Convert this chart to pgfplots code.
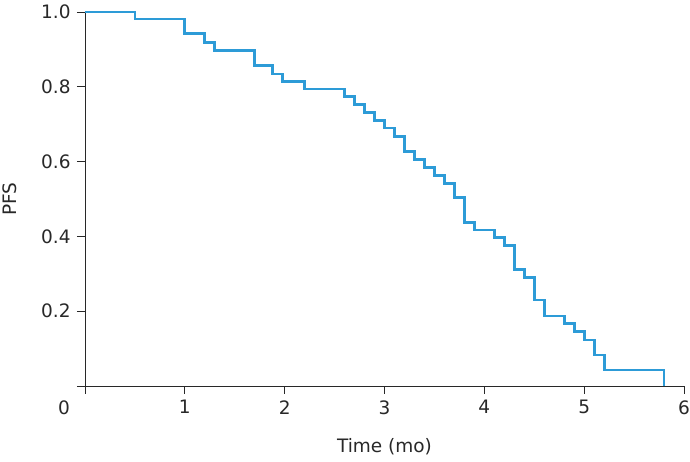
\documentclass[border=0pt]{standalone}
\usepackage{pgfplots}
\pgfplotsset{compat=1.18}
\usepackage{fontspec}
\setmainfont{DejaVu Sans}
\definecolor{kmblue}{RGB}{45,155,215}
\definecolor{axgray}{RGB}{40,40,40}
\begin{document}
\fontsize{18.5pt}{22pt}\selectfont
\begin{tikzpicture}
\begin{axis}[
  scale only axis,
  width=599pt, height=374pt,
  xmin=0, xmax=6, ymin=0, ymax=1,
  axis x line*=bottom, axis y line*=left,
  axis line style={axgray, line width=0.9pt, -},
  tick style={axgray, line width=0.9pt},
  tick align=outside,
  major tick length=8pt,
  xtick={0,1,2,3,4,5,6},
  xticklabels={\makebox[0pt][r]{0\hspace{15pt}},1,2,3,4,5,6},
  ytick={0,0.2,0.4,0.6,0.8,1.0},
  yticklabels={,0.2,0.4,0.6,0.8,1.0},
  /pgf/number format/assume math mode=true,
  ticklabel style={font=\fontsize{18.5pt}{22pt}\selectfont, text=axgray},
  xlabel={Time (mo)}, ylabel={PFS},
  label style={font=\fontsize{18.5pt}{22pt}\selectfont, text=axgray},
  xlabel style={at={(axis description cs:0.5,0)}, anchor=center, yshift=-61pt},
  ylabel style={at={(axis description cs:-0.1252,0.5)}, anchor=center},
  clip=false,
]
\addplot[const plot, color=kmblue, line width=2.8pt, line join=miter] coordinates {
(0,1) (0.5,0.981) (1.0,0.942) (1.2,0.919) (1.3,0.897) (1.7,0.856) (1.88,0.834)
(1.98,0.814) (2.2,0.794) (2.6,0.774) (2.7,0.752) (2.8,0.731) (2.9,0.709) (3.0,0.690)
(3.1,0.668) (3.2,0.626) (3.3,0.606) (3.4,0.584) (3.5,0.563) (3.6,0.542) (3.7,0.503)
(3.8,0.437) (3.9,0.417) (4.1,0.397) (4.2,0.376) (4.3,0.312) (4.4,0.291) (4.5,0.230)
(4.6,0.187) (4.8,0.168) (4.9,0.145) (5.0,0.123) (5.1,0.083) (5.2,0.043) (5.8,0.043) (5.8,0)
};
\coordinate (sw) at (rel axis cs:0,0);
\coordinate (ne) at (rel axis cs:1,1);
\end{axis}
\pgfresetboundingbox
\path ([shift={(-85pt,-76pt)}]sw) rectangle ([shift={(6pt,12pt)}]ne);
\end{tikzpicture}
\end{document}
